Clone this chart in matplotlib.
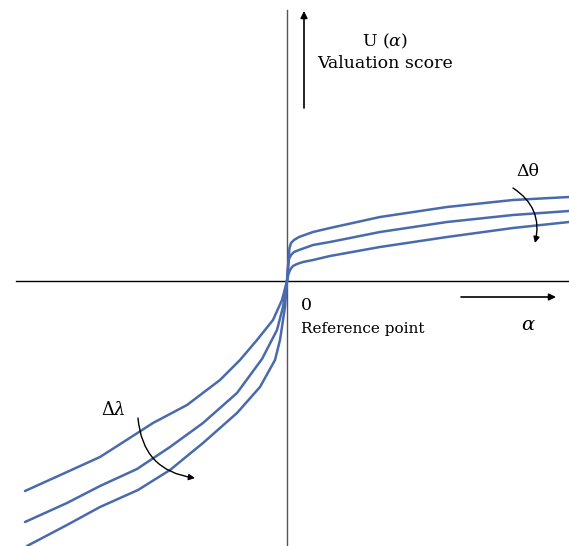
import matplotlib
matplotlib.use("Agg")
import matplotlib.pyplot as plt

plt.rcParams["font.family"] = "DejaVu Serif"
plt.rcParams["mathtext.fontset"] = "dejavuserif"

# ---------------------------------------------------------------------------
# Value function curves (alpha, U), origin = reference
# ---------------------------------------------------------------------------
gain_top_x = [0, 1, 2.5, 4, 7, 12, 26, 43, 93, 160, 226, 282]
gain_top_y = [0, 15, 33, 38, 41, 44, 49, 53, 64, 74, 81, 84]
gain_mid_x = [0, 1, 2, 4, 7, 12, 26, 43, 93, 160, 226, 282]
gain_mid_y = [0, 12, 22, 26, 29, 31, 36, 39, 49, 59, 66, 70]
gain_low_x = [0, 1.5, 3.5, 6, 10, 16, 26, 43, 93, 160, 226, 282]
gain_low_y = [0, 7, 12, 15, 17, 19, 21, 25, 34, 44, 53, 59]

loss_top_x = [-262, -220, -187, -162, -134, -100, -67, -47, -30, -14, -5, 0]
loss_top_y = [-210, -191, -176, -160, -142, -124, -99, -79, -59, -39, -19, 0]
loss_mid_x = [-262, -220, -187, -150, -117, -84, -50, -25, -10, -4, 0]
loss_mid_y = [-241, -222, -205, -188, -166, -142, -112, -78, -49, -26, 0]
loss_low_x = [-260, -220, -187, -149, -117, -84, -50, -27, -12, -7, -2, 0]
loss_low_y = [-265, -244, -226, -209, -189, -162, -132, -106, -79, -59, -26, 0]

CURVE = "#4a6aae"

fig = plt.figure(figsize=(5.69, 5.46), dpi=100)
ax = fig.add_axes([0, 0, 1, 1])
ax.set_xlim(-287, 282)
ax.set_ylim(-265, 281)
ax.axis("off")

# axes through the reference point
ax.plot([-271, 282], [0, 0], color="black", linewidth=1.0)
ax.plot([0, 0], [-265, 271], color="#555555", linewidth=1.0)

for xs, ys in [(gain_top_x, gain_top_y), (gain_mid_x, gain_mid_y),
               (gain_low_x, gain_low_y), (loss_top_x, loss_top_y),
               (loss_mid_x, loss_mid_y), (loss_low_x, loss_low_y)]:
    ax.plot(xs, ys, color=CURVE, linewidth=1.8, solid_capstyle="round",
            solid_joinstyle="round")

# ── direction arrows ────────────────────────────────────────────────────────
straight = dict(arrowstyle="-|>", color="black", linewidth=1.2,
                mutation_scale=10, shrinkA=0, shrinkB=0)
ax.annotate("", xy=(17, 270), xytext=(17, 173), arrowprops=straight)
ax.annotate("", xy=(269, -16), xytext=(174, -16), arrowprops=straight)

curved = dict(arrowstyle="-|>", color="black", linewidth=1.0,
              mutation_scale=9, shrinkA=0, shrinkB=0)
ax.annotate("", xy=(248, 38), xytext=(226, 93),
            arrowprops=dict(curved, connectionstyle="arc3,rad=-0.35"))
ax.annotate("", xy=(-92, -197), xytext=(-149, -137),
            arrowprops=dict(curved, connectionstyle="arc3,rad=0.4"))

# ── labels ──────────────────────────────────────────────────────────────────
ax.text(98, 240, r"U ($\alpha$)", ha="center", va="center", fontsize=12.5)
ax.text(98, 217, "Valuation score", ha="center", va="center", fontsize=12.5)
ax.text(241, 109, "Δθ", ha="center", va="center", fontsize=12.5)
ax.text(-174, -129, r"$\Delta\lambda$", ha="center", va="center", fontsize=13)
ax.text(241, -44, r"$\alpha$", ha="center", va="center", fontsize=14)
ax.text(14, -24, "0", ha="left", va="center", fontsize=12.5)
ax.text(14, -48, "Reference point", ha="left", va="center", fontsize=11)

fig.savefig("out.png", dpi=100)
